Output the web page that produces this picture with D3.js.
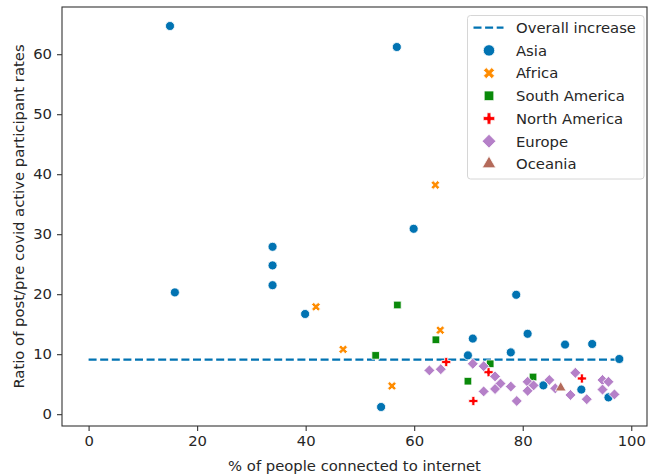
<!DOCTYPE html>
<html>
<head>
<meta charset="utf-8">
<script src="https://cdn.jsdelivr.net/npm/d3@7"></script>
<style>
  html, body { margin: 0; padding: 0; background: #fff; }
  svg { display: block; font-family: "DejaVu Sans", sans-serif; }
</style>
</head>
<body>
<svg id="chart" width="652" height="475"></svg>
<script>
// Continent groups, in legend order
const continents = ["Asia", "Africa", "South America", "North America", "Europe", "Oceania"];
const colors = ["#0173b2", "#ff8c00", "#0a8a0a", "#ff0000", "#b580c8", "#b46a5a"];

// [% of people connected to internet, ratio of post/pre covid active participant rates]
const asia = [
  [15.0, 64.7], [15.9, 20.3], [56.8, 61.2], [33.9, 27.9], [33.9, 24.8], [33.9, 21.5],
  [39.9, 16.7], [59.9, 30.9], [78.8, 19.9], [53.9, 1.2], [70.8, 12.6], [80.9, 13.4],
  [87.8, 11.6], [92.8, 11.7], [69.9, 9.8], [77.8, 10.3], [97.8, 9.2], [83.8, 4.8],
  [90.8, 4.1], [95.8, 2.8]
];
const africa = [[41.9, 17.9], [46.9, 10.8], [55.9, 4.7], [63.9, 38.2], [64.8, 14.0]];
const southAmerica = [[56.9, 18.2], [64.0, 12.4], [52.9, 9.8], [69.9, 5.5], [81.9, 6.2], [74.0, 8.4]];
const northAmerica = [[65.9, 8.7], [70.9, 2.2], [73.7, 7.0], [90.9, 5.95]];
const europe = [
  [62.8, 7.3], [64.9, 7.5], [70.8, 8.4], [72.8, 8.0], [74.9, 6.3], [75.9, 5.1],
  [72.8, 3.8], [74.9, 4.2], [77.8, 4.6], [78.9, 2.2], [80.9, 5.4], [82.0, 4.8],
  [80.9, 3.9], [84.9, 5.7], [86.0, 4.3], [88.8, 3.2], [89.7, 6.9], [91.8, 2.5],
  [94.7, 5.7], [95.8, 5.4], [94.7, 4.1], [96.9, 3.3]
];
const oceania = [[87.0, 4.4]];
const seriesValues = [asia, africa, southAmerica, northAmerica, europe, oceania];

// Overall increase reference line
const overallIncrease = 9.1;
const overallRange = [0, 98];

const xTicks = [0, 20, 40, 60, 80, 100];
const yTicks = [0, 10, 20, 30, 40, 50, 60];
const xTitle = "% of people connected to internet";
const yTitle = "Ratio of post/pre covid active participant rates";
const lineLabel = "Overall increase";

const svg = d3.select("#chart");
const plotLeft = 62, plotRight = 647, plotTop = 7, plotBottom = 426;

const x = d3.scaleLinear().domain([-4.9, 102.9]).range([plotLeft, plotRight]);
const y = d3.scaleLinear().domain([-1.97, 67.87]).range([plotBottom, plotTop]);

const textColor = "#262626";
const fontSize = 14.8;

// Marker shapes per continent: circle, filled X, square, filled plus, diamond, triangle
const shapes = [
  { type: d3.symbolCircle, rot: 0, size: 64 },
  { type: d3.symbolCross, rot: 45, size: 48 },
  { type: d3.symbolSquare, rot: 0, size: 58 },
  { type: d3.symbolCross, rot: 0, size: 46 },
  { type: d3.symbolSquare, rot: 45, size: 60 },
  { type: d3.symbolTriangle, rot: 0, size: 50 }
];

// Axes
const xAxis = svg.append("g")
  .attr("transform", `translate(0,${plotBottom})`)
  .call(d3.axisBottom(x).tickValues(xTicks).tickFormat(d3.format("d")).tickSize(5).tickPadding(4).tickSizeOuter(0));
const yAxis = svg.append("g")
  .attr("transform", `translate(${plotLeft},0)`)
  .call(d3.axisLeft(y).tickValues(yTicks).tickFormat(d3.format("d")).tickSize(5).tickPadding(5).tickSizeOuter(0));

[xAxis, yAxis].forEach(g => {
  g.select(".domain").remove();
  g.selectAll(".tick line").attr("stroke", "#333").attr("stroke-width", 1.1);
  g.selectAll(".tick text")
    .attr("fill", textColor)
    .style("font-size", fontSize + "px")
    .style("font-family", "DejaVu Sans, sans-serif");
});

// Frame
svg.append("rect")
  .attr("x", plotLeft).attr("y", plotTop)
  .attr("width", plotRight - plotLeft).attr("height", plotBottom - plotTop)
  .attr("fill", "none").attr("stroke", "#333").attr("stroke-width", 1.1);

// Axis titles
svg.append("text")
  .attr("x", (plotLeft + plotRight) / 2).attr("y", 470.5)
  .attr("text-anchor", "middle")
  .attr("fill", textColor)
  .style("font-size", fontSize + "px")
  .text(xTitle);

svg.append("text")
  .attr("transform", `translate(23.5,${(plotTop + plotBottom) / 2}) rotate(-90)`)
  .attr("text-anchor", "middle")
  .attr("fill", textColor)
  .style("font-size", fontSize + "px")
  .text(yTitle);

// Overall increase line
svg.append("line")
  .attr("x1", x(overallRange[0])).attr("x2", x(overallRange[1]))
  .attr("y1", y(overallIncrease)).attr("y2", y(overallIncrease))
  .attr("stroke", colors[0]).attr("stroke-width", 2.2)
  .attr("stroke-dasharray", "8,3.6");

// Points
const plot = svg.append("g");
seriesValues.forEach((pts, i) => {
  const s = shapes[i];
  plot.append("g").selectAll("path")
    .data(pts)
    .join("path")
    .attr("d", d3.symbol().type(s.type).size(s.size))
    .attr("transform", d => `translate(${x(d[0])},${y(d[1])}) rotate(${s.rot})`)
    .attr("fill", colors[i])
    .attr("stroke", "#fff")
    .attr("stroke-width", 0.8);
});

// Legend
const lg = svg.append("g");
lg.append("rect")
  .attr("x", 467.5).attr("y", 15.5)
  .attr("width", 176.5).attr("height", 163.5)
  .attr("rx", 3).attr("ry", 3)
  .attr("fill", "#fff").attr("fill-opacity", 0.8)
  .attr("stroke", "#d6d6d6").attr("stroke-width", 1);

const rowY = i => 27.7 + i * 22.7;
const labels = [lineLabel].concat(continents);
labels.forEach((label, i) => {
  const cy = rowY(i);
  if (i === 0) {
    lg.append("line")
      .attr("x1", 473.5).attr("x2", 503.5)
      .attr("y1", cy).attr("y2", cy)
      .attr("stroke", colors[0]).attr("stroke-width", 2.2)
      .attr("stroke-dasharray", "8,3.6");
  } else {
    const s = shapes[i - 1];
    lg.append("path")
      .attr("d", d3.symbol().type(s.type).size(s.size * 1.6))
      .attr("transform", `translate(489,${cy}) rotate(${s.rot})`)
      .attr("fill", colors[i - 1])
      .attr("stroke", "#fff")
      .attr("stroke-width", 0.8);
  }
  lg.append("text")
    .attr("x", 516).attr("y", cy)
    .attr("dy", "0.36em")
    .attr("fill", textColor)
    .style("font-size", fontSize + "px")
    .text(label);
});
</script>
</body>
</html>
